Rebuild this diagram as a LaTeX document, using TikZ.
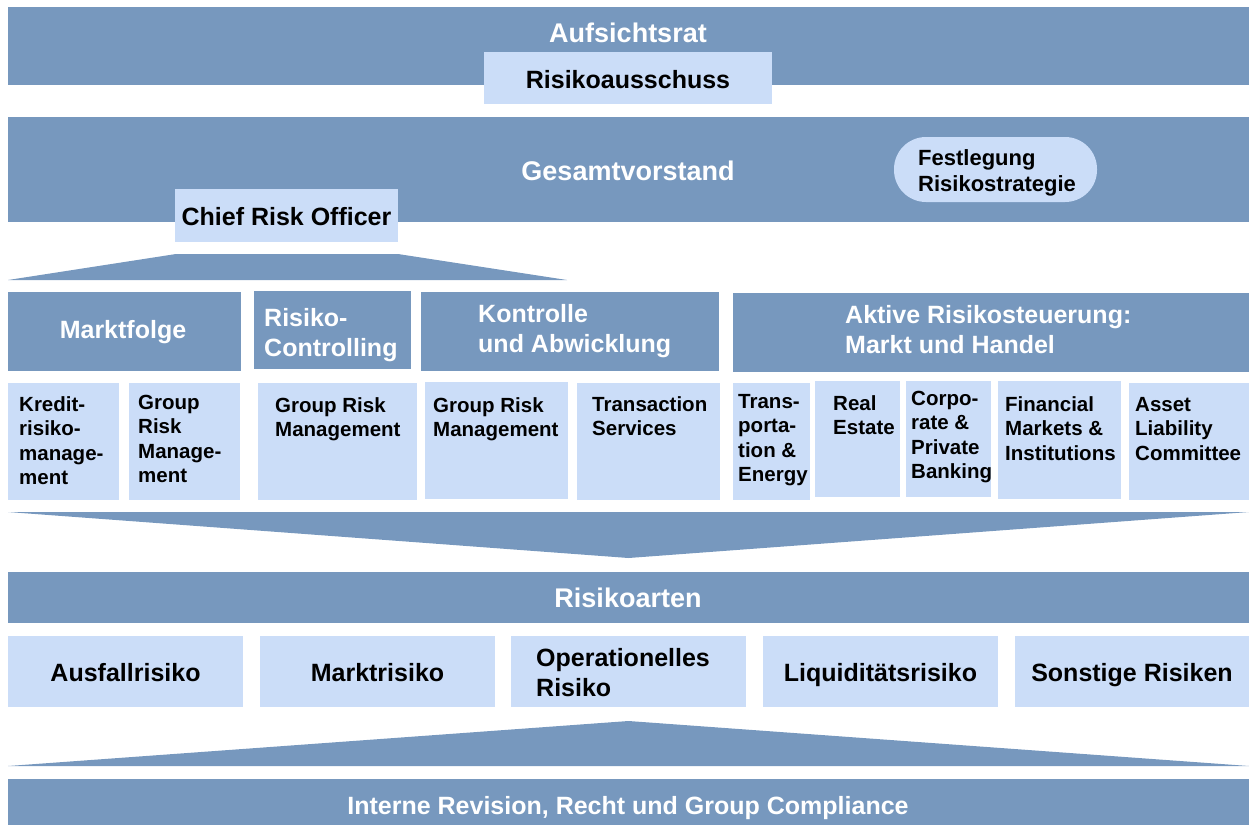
\documentclass[tikz,border=0pt]{standalone}
\usepackage{fontspec}
\setmainfont{Liberation Sans}
\definecolor{bandblue}{RGB}{119,152,190}
\definecolor{paleblue}{RGB}{203,221,248}
\tikzset{
  band/.style={fill=bandblue, draw=none, inner sep=0pt, outer sep=0pt, anchor=north west},
  pale/.style={fill=paleblue, draw=none, inner sep=0pt, outer sep=0pt, anchor=north west},
  headtxt/.style={text=white, font=\bfseries\fontsize{25}{30}\selectfont, inner sep=0pt, align=left},
  titletxt/.style={headtxt, font=\bfseries\fontsize{27}{30}\selectfont, anchor=base},
  risktxt/.style={text=black, font=\bfseries\fontsize{25}{30}\selectfont, inner sep=0pt, align=left},
  subtxt/.style={text=black, font=\bfseries\fontsize{20.5}{24.5}\selectfont, inner sep=0pt, align=left, anchor=base west},
}
\begin{document}
\begin{tikzpicture}[x=1pt, y=1pt, yscale=-1]
\useasboundingbox (0,0) rectangle (1249,825);
\node[band, minimum width=1241pt, minimum height=78pt] (aufsicht) at (8,7) {};
\node[titletxt] (aufsichtLabel) at (628,42) {Aufsichtsrat};
\node[pale, minimum width=288pt, minimum height=52pt] (ausschuss) at (484,52) {};
\node[risktxt, anchor=base] (ausschussLabel) at (628,88) {Risikoausschuss};
\node[band, minimum width=1241pt, minimum height=105pt] (vorstand) at (8,117) {};
\node[titletxt] (vorstandLabel) at (628,180) {Gesamtvorstand};
\node[pale, rounded corners=32pt, minimum width=203pt, minimum height=65pt] (festlegung) at (894,137) {};
\node[subtxt, font=\bfseries\fontsize{22}{26}\selectfont] (festlegungLabel) at (918,191) {Festlegung\\Risikostrategie};
\node[pale, minimum width=223pt, minimum height=53pt] (cro) at (175,189) {};
\node[risktxt, anchor=base] (croLabel) at (286.5,225) {Chief Risk Officer};
\fill[bandblue] (176,254) -- (398,254) -- (567,280) -- (8,280) -- cycle;
\node[band, minimum width=233pt, minimum height=79pt] (marktfolge) at (8,292) {};
\node[headtxt, anchor=base] (marktfolgeLabel) at (123,338) {Marktfolge};
\node[band, minimum width=157pt, minimum height=78pt] (controlling) at (254,291) {};
\node[headtxt, anchor=base west] (controllingLabel) at (264,356) {Risiko-\\Controlling};
\node[band, minimum width=298pt, minimum height=79pt] (kontrolle) at (421,292) {};
\node[headtxt, anchor=base west] (kontrolleLabel) at (478,352) {Kontrolle\\und Abwicklung};
\node[band, minimum width=516pt, minimum height=79pt] (aktive) at (733,293) {};
\node[headtxt, anchor=base west] (aktiveLabel) at (845,353) {Aktive Risikosteuerung:\\Markt und Handel};
\node[pale, minimum width=111pt, minimum height=117pt] (kredit) at (8,383) {};
\node[subtxt] (kreditLabel) at (19,484.5) {Kredit-\\risiko-\\manage-\\ment};
\node[pale, minimum width=111pt, minimum height=117pt] (grmA) at (129,383) {};
\node[subtxt] (grmALabel) at (138,482.5) {Group\\Risk\\Manage-\\ment};
\node[pale, minimum width=159pt, minimum height=117pt] (grmB) at (258,383) {};
\node[subtxt] (grmBLabel) at (275,436.5) {Group Risk\\Management};
\node[pale, minimum width=143pt, minimum height=117pt] (grmC) at (425,382) {};
\node[subtxt] (grmCLabel) at (433,436.5) {Group Risk\\Management};
\node[pale, minimum width=143pt, minimum height=117pt] (transaction) at (577,383) {};
\node[subtxt] (transactionLabel) at (592,435.5) {Transaction\\Services};
\node[pale, minimum width=77pt, minimum height=117pt] (transport) at (733,383) {};
\node[subtxt] (transportLabel) at (738,481.5) {Trans-\\porta-\\tion \&\\Energy};
\node[pale, minimum width=85pt, minimum height=116pt] (realestate) at (815,381) {};
\node[subtxt] (realestateLabel) at (833,434.5) {Real\\Estate};
\node[pale, minimum width=85pt, minimum height=116pt] (corporate) at (906,381) {};
\node[subtxt] (corporateLabel) at (911,478.5) {Corpo-\\rate \&\\Private\\Banking};
\node[pale, minimum width=123pt, minimum height=118pt] (financial) at (998,381) {};
\node[subtxt] (financialLabel) at (1005,460) {Financial\\Markets \&\\Institutions};
\node[pale, minimum width=120pt, minimum height=117pt] (alco) at (1129,383) {};
\node[subtxt] (alcoLabel) at (1135,460) {Asset\\Liability\\Committee};
\fill[bandblue] (8,512) -- (1249,512) -- (628.5,558) -- cycle;
\node[band, minimum width=1241pt, minimum height=51pt] (risikoarten) at (8,572) {};
\node[titletxt] (risikoartenLabel) at (628,607) {Risikoarten};
\node[pale, minimum width=235pt, minimum height=71pt] (ausfall) at (8,636) {};
\node[risktxt, anchor=base] (ausfallLabel) at (125.5,681) {Ausfallrisiko};
\node[pale, minimum width=235pt, minimum height=71pt] (markt) at (260,636) {};
\node[risktxt, anchor=base] (marktLabel) at (377.5,681) {Marktrisiko};
\node[pale, minimum width=235pt, minimum height=71pt] (oprisk) at (511,636) {};
\node[risktxt, anchor=base west] (opriskLabel) at (536,696) {Operationelles\\Risiko};
\node[pale, minimum width=235pt, minimum height=71pt] (liquiditaet) at (763,636) {};
\node[risktxt, anchor=base] (liquiditaetLabel) at (880.5,681) {Liquiditätsrisiko};
\node[pale, minimum width=234pt, minimum height=71pt] (sonstige) at (1015,636) {};
\node[risktxt, anchor=base] (sonstigeLabel) at (1132,681) {Sonstige Risiken};
\fill[bandblue] (8,766) -- (1249,766) -- (628.5,721) -- cycle;
\node[band, minimum width=1241pt, minimum height=46pt] (revision) at (8,779) {};
\node[headtxt, anchor=base] (revisionLabel) at (628,814) {Interne Revision, Recht und Group Compliance};
\end{tikzpicture}
\end{document}
